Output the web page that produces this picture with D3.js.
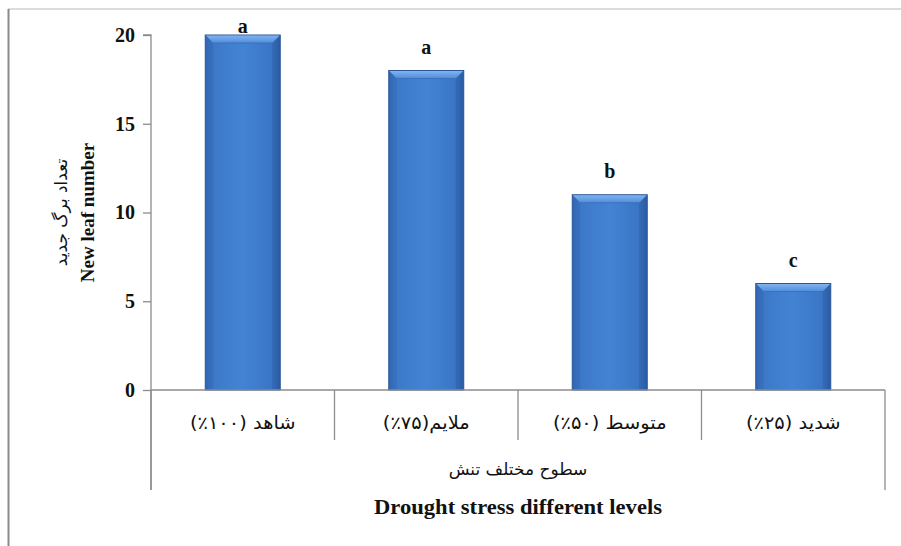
<!DOCTYPE html>
<html>
<head>
<meta charset="utf-8">
<script src="https://cdn.jsdelivr.net/npm/d3@7/dist/d3.min.js"></script>
<style>
  html, body { margin: 0; padding: 0; background: #fff; }
  svg { display: block; }
</style>
</head>
<body>
<svg id="chart" width="901" height="546"></svg>
<script>
const categories = ["شاهد (\u2066٪۱۰۰\u2069)", "ملایم(\u2066٪۷۵\u2069)", "متوسط (\u2066٪۵۰\u2069)", "شدید (\u2066٪۲۵\u2069)"];
const values = [20, 18, 11, 6];
const letters = ["a", "a", "b", "c"];
const yTicks = [0, 5, 10, 15, 20];
const groupLabelFa = "سطوح مختلف تنش";
const groupLabelEn = "Drought stress different levels";
const yLabelFa = "تعداد برگ جدید";
const yLabelEn = "New leaf number";

const svg = d3.select("#chart");
const serif = "'Liberation Serif', 'Times New Roman', serif";
const faFont = "'DejaVu Sans', sans-serif";

// outer frame (top and left edges visible)
svg.append("line").attr("x1", 8).attr("x2", 901).attr("y1", 9).attr("y2", 9)
  .attr("stroke", "#d0d0d0").attr("stroke-width", 1.5);
svg.append("line").attr("x1", 8.5).attr("x2", 8.5).attr("y1", 9).attr("y2", 546)
  .attr("stroke", "#8a8a8a").attr("stroke-width", 2);

const plot = { left: 151, right: 885, top: 35, bottom: 390 };

const x = d3.scaleBand().domain(categories).range([plot.left, plot.right]).paddingInner(0).paddingOuter(0);
const y = d3.scaleLinear().domain([0, 20]).range([plot.bottom, plot.top]);

// gradients
const defs = svg.append("defs");
const g1 = defs.append("linearGradient").attr("id", "barGrad").attr("x1", "0").attr("x2", "1").attr("y1", "0").attr("y2", "0");
g1.append("stop").attr("offset", "0").attr("stop-color", "#2f62ad");
g1.append("stop").attr("offset", "0.08").attr("stop-color", "#3d78c8");
g1.append("stop").attr("offset", "0.5").attr("stop-color", "#4383d4");
g1.append("stop").attr("offset", "0.92").attr("stop-color", "#3a74c4");
g1.append("stop").attr("offset", "1").attr("stop-color", "#2a5aa2");
const g2 = defs.append("linearGradient").attr("id", "topGrad").attr("x1", "0").attr("x2", "0").attr("y1", "0").attr("y2", "1");
g2.append("stop").attr("offset", "0").attr("stop-color", "#7fb3ee");
g2.append("stop").attr("offset", "1").attr("stop-color", "#4f8ddb");

// y axis
const yAxis = d3.axisLeft(y).tickValues(yTicks).tickSize(8).tickPadding(8).tickFormat(d3.format("d"));
const ya = svg.append("g").attr("transform", `translate(${plot.left},0)`).call(yAxis);
ya.select(".domain").attr("stroke", "#8c8c8c").attr("stroke-width", 1.3)
  .attr("d", `M-8,${plot.top}H0V${plot.bottom + 100}`);
ya.selectAll(".tick line").attr("stroke", "#8c8c8c").attr("stroke-width", 1.3);
ya.selectAll(".tick text").attr("font-family", serif).attr("font-weight", "bold")
  .attr("font-size", 20).attr("fill", "#111");

// bars
const barW = 75;
const bars = svg.append("g");
categories.forEach((c, i) => {
  const cx = x(c) + x.bandwidth() / 2;
  const x0 = cx - barW / 2, x1 = cx + barW / 2;
  const yt = y(values[i]), yb = y(0);
  bars.append("rect").attr("x", x0).attr("y", yt).attr("width", barW).attr("height", yb - yt)
    .attr("fill", "url(#barGrad)").attr("stroke", "#2b5797").attr("stroke-width", 1);
  bars.append("path")
    .attr("d", `M${x0 + 0.5},${yt + 0.5}L${x1 - 0.5},${yt + 0.5}L${x1 - 8},${yt + 8}L${x0 + 8},${yt + 8}Z`)
    .attr("fill", "url(#topGrad)");
  bars.append("line").attr("x1", x0 + 8).attr("x2", x1 - 8).attr("y1", yt + 8).attr("y2", yt + 8)
    .attr("stroke", "#3a70bd").attr("stroke-width", 1);
  bars.append("path")
    .attr("d", `M${x0 + 0.5},${yt + 0.5}L${x0 + 8},${yt + 8}L${x0 + 8},${yb - 1}L${x0 + 0.5},${yb - 1}Z`)
    .attr("fill", "#3468b4").attr("opacity", 0.5);
  bars.append("path")
    .attr("d", `M${x1 - 0.5},${yt + 0.5}L${x1 - 8},${yt + 8}L${x1 - 8},${yb - 1}L${x1 - 0.5},${yb - 1}Z`)
    .attr("fill", "#2c5ca4").attr("opacity", 0.5);
  svg.append("text").attr("x", cx).attr("y", Math.max(yt - 17, 33))
    .attr("text-anchor", "middle").attr("font-family", serif).attr("font-weight", "bold")
    .attr("font-size", 20).attr("fill", "#111").text(letters[i]);
});

// x axis line and category separators
svg.append("line").attr("x1", plot.left).attr("x2", plot.right).attr("y1", plot.bottom).attr("y2", plot.bottom)
  .attr("stroke", "#8c8c8c").attr("stroke-width", 1.3);
const bounds = categories.map(c => x(c)).concat([x(categories[categories.length - 1]) + x.bandwidth()]);
bounds.forEach((bx, i) => {
  const outer = i === 0 || i === bounds.length - 1;
  svg.append("line").attr("x1", bx).attr("x2", bx).attr("y1", plot.bottom)
    .attr("y2", outer ? plot.bottom + 100 : plot.bottom + 50)
    .attr("stroke", "#8c8c8c").attr("stroke-width", 1.3);
});

// category labels
categories.forEach(c => {
  svg.append("text").attr("transform", `translate(${x(c) + x.bandwidth() / 2},429) scale(1.08,1)`)
    .attr("text-anchor", "middle").style("direction", "rtl")
    .attr("font-family", faFont).attr("font-size", 18).attr("fill", "#111").text(c);
});

// group labels
const midX = (plot.left + plot.right) / 2;
svg.append("text").attr("x", midX).attr("y", 475).attr("text-anchor", "middle")
  .style("direction", "rtl").attr("font-family", faFont).attr("font-size", 17).attr("fill", "#111").text(groupLabelFa);
svg.append("text").attr("transform", `translate(${midX},514) scale(1.13,1)`).attr("text-anchor", "middle")
  .attr("font-family", serif).attr("font-weight", "bold").attr("font-size", 20).attr("fill", "#111").text(groupLabelEn);

// y axis titles
const ymid = (plot.top + plot.bottom) / 2;
svg.append("text").attr("transform", `translate(67,${ymid}) rotate(-90)`).attr("text-anchor", "middle")
  .style("direction", "rtl").attr("font-family", faFont).attr("font-size", 17).attr("fill", "#111").text(yLabelFa);
svg.append("text").attr("transform", `translate(94,${ymid}) rotate(-90)`).attr("text-anchor", "middle")
  .attr("font-family", serif).attr("font-weight", "bold").attr("font-size", 19).attr("fill", "#111").text(yLabelEn);
</script>
</body>
</html>
